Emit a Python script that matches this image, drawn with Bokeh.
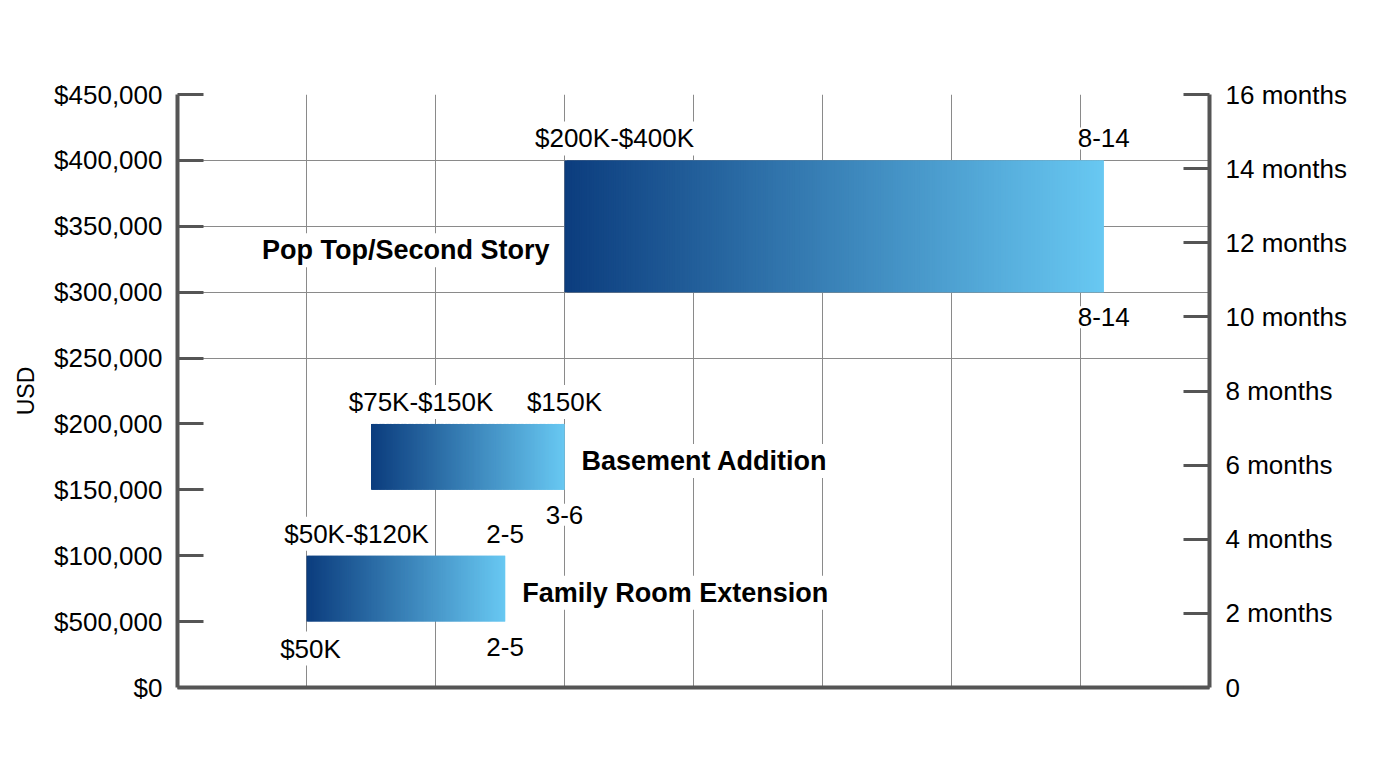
from bokeh.plotting import figure
from bokeh.models import Range1d, LinearAxis, FixedTicker, Grid, ColumnDataSource
from bokeh.core.properties import value
from bokeh.embed import file_html
from bokeh.resources import INLINE

# ---------------- data ----------------
projects = ["Pop Top/Second Story", "Basement Addition", "Family Room Extension"]
cost_low = [300000, 150000, 50000]
cost_high = [400000, 200000, 100000]
month_start = [6.0, 3.0, 2.0]
month_end = [14.36, 6.0, 5.08]
range_labels = ["$200K-$400K", "$75K-$150K", "$50K-$120K"]
top_end_labels = ["8-14", "$150K", "2-5"]
bottom_start_labels = ["", "", "$50K"]
bottom_end_labels = ["8-14", "3-6", "2-5"]
name_side = ["left", "right", "right"]

usd_ticks = [0, 50000, 100000, 150000, 200000, 250000, 300000, 350000, 400000, 450000]
usd_tick_labels = ["$0", "$500,000", "$100,000", "$150,000", "$200,000",
                   "$250,000", "$300,000", "$350,000", "$400,000", "$450,000"]
month_ticks = [0, 2, 4, 6, 8, 10, 12, 14, 16]
month_tick_labels = ["0", "2 months", "4 months", "6 months", "8 months",
                     "10 months", "12 months", "14 months", "16 months"]

# ---------------- style ----------------
FONT = "Liberation Sans"
AXIS_COLOR = "#555555"
GRID_COLOR = "#8a8a8a"
LEFT_RGB = (12, 61, 126)
RIGHT_RGB = (104, 200, 242)
N_SLICES = 220

p = figure(width=1360, height=752, output_backend="svg", toolbar_location=None,
           x_range=Range1d(0, 16), y_range=Range1d(0, 450000),
           x_axis_location=None, y_axis_location=None,
           min_border_left=177, min_border_right=151,
           min_border_top=94, min_border_bottom=65)
p.outline_line_color = None
p.background_fill_color = "white"
p.border_fill_color = "white"
p.extra_y_ranges = {"months": Range1d(0, 16)}

# remove any default grids, then add our own
p.center = [r for r in p.center if not isinstance(r, Grid)]
vgrid = Grid(dimension=0, ticker=FixedTicker(ticks=[t for t in month_ticks if 0 < t < 16]),
             grid_line_color=GRID_COLOR, grid_line_width=1)
hgrid = Grid(dimension=1, ticker=FixedTicker(ticks=[t for t in usd_ticks if t >= 250000]),
             grid_line_color=GRID_COLOR, grid_line_width=1)
p.add_layout(vgrid)
p.add_layout(hgrid)

# gradient bars, drawn as thin overlapping slices
L, R, B, T, C = [], [], [], [], []
for x0, x1, y0, y1 in zip(month_start, month_end, cost_low, cost_high):
    w = (x1 - x0) / N_SLICES
    for i in range(N_SLICES):
        f = i / (N_SLICES - 1)
        rgb = tuple(int(round(a + (b - a) * f)) for a, b in zip(LEFT_RGB, RIGHT_RGB))
        L.append(x0 + i * w)
        R.append(min(x1, x0 + (i + 2) * w))
        B.append(y0)
        T.append(y1)
        C.append("#%02x%02x%02x" % rgb)
p.quad(left=L, right=R, bottom=B, top=T, fill_color=C, line_color=None)

# text labels
def add_text(xs, ys, texts, xo, yo, align, size, style="normal"):
    src = ColumnDataSource(dict(x=xs, y=ys, text=texts, xo=xo, yo=yo, al=align))
    p.text(x="x", y="y", text="text", source=src, x_offset="xo", y_offset="yo",
           text_align="al", text_baseline="middle",
           text_font=value(FONT), text_font_size=size, text_font_style=style,
           text_color="black", background_fill_color="white", padding=2)

n = len(projects)
add_text(month_start, cost_high, range_labels, [50] * n, [-22] * n, ["center"] * n, "26px")
add_text(month_end, cost_high, top_end_labels, [0] * n, [-22] * n, ["center"] * n, "26px")
bs = [i for i in range(n) if bottom_start_labels[i]]
add_text([month_start[i] for i in bs], [cost_low[i] for i in bs],
         [bottom_start_labels[i] for i in bs], [4] * len(bs), [27] * len(bs),
         ["center"] * len(bs), "26px")
add_text(month_end, cost_low, bottom_end_labels, [0] * n, [25] * n, ["center"] * n, "26px")

nx, ny, nxo, nyo, nal = [], [], [], [], []
for i in range(n):
    ny.append((cost_low[i] + cost_high[i]) / 2)
    if name_side[i] == "left":
        nx.append(month_start[i]); nxo.append(-13); nyo.append(24); nal.append("right")
    else:
        nx.append(month_end[i]); nxo.append(15); nyo.append(4); nal.append("left")
add_text(nx, ny, projects, nxo, nyo, nal, "27px", "bold")

# axes
left_axis = LinearAxis(ticker=FixedTicker(ticks=usd_ticks),
                       major_label_overrides={t: l for t, l in zip(usd_ticks, usd_tick_labels)},
                       axis_label="USD")
right_axis = LinearAxis(y_range_name="months", ticker=FixedTicker(ticks=month_ticks),
                        major_label_overrides={t: l for t, l in zip(month_ticks, month_tick_labels)})
bottom_axis = LinearAxis(ticker=FixedTicker(ticks=[]))
for ax in (left_axis, right_axis, bottom_axis):
    ax.axis_line_color = AXIS_COLOR
    ax.axis_line_width = 4
    ax.major_tick_line_color = AXIS_COLOR
    ax.major_tick_line_width = 3
    ax.major_tick_in = 26
    ax.major_tick_out = 0
    ax.minor_tick_line_color = None
    ax.major_label_text_font = FONT
    ax.major_label_text_font_size = "26px"
    ax.major_label_text_color = "black"
left_axis.major_label_standoff = 15
right_axis.major_label_standoff = 16
left_axis.axis_label_text_font = FONT
left_axis.axis_label_text_font_size = "23px"
left_axis.axis_label_text_font_style = "normal"
left_axis.axis_label_text_color = "black"
left_axis.axis_label_standoff = 12
bottom_axis.major_tick_in = 0
bottom_axis.major_label_text_font_size = "0px"

p.add_layout(left_axis, "left")
p.add_layout(right_axis, "right")
p.add_layout(bottom_axis, "below")

open("out.html", "w").write(file_html(p, INLINE))
